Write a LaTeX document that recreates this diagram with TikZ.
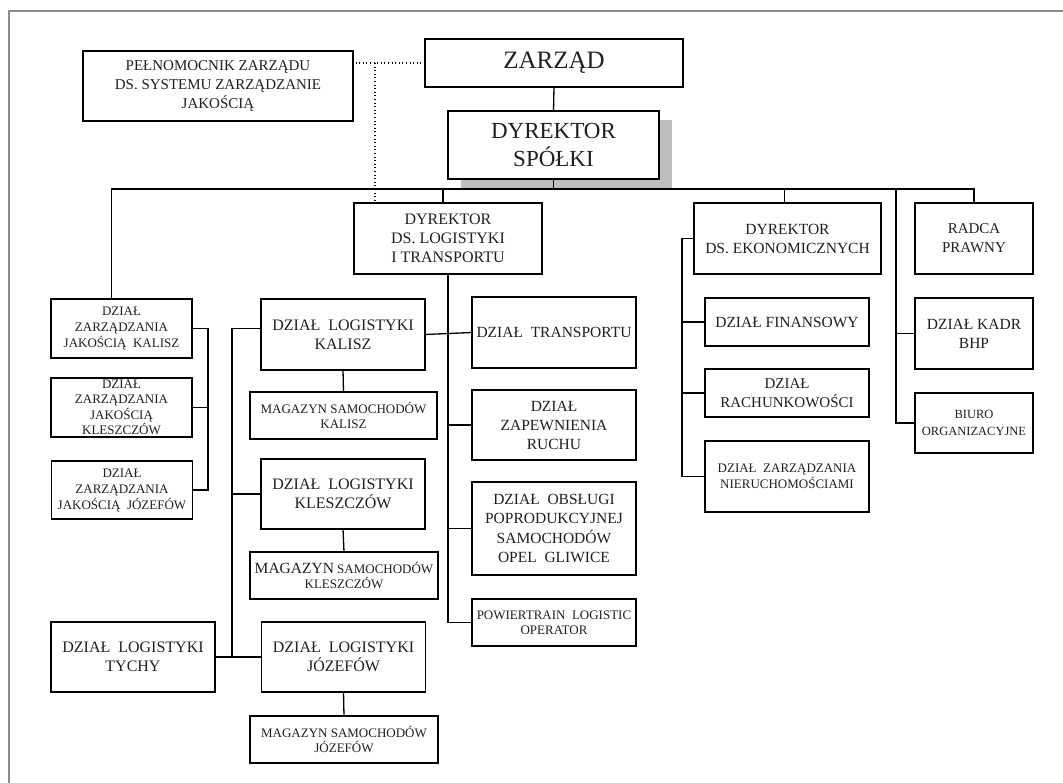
\documentclass[tikz,border=0pt]{standalone}
\usepackage{fontspec}
\setmainfont{Liberation Serif}
\usepackage{xcolor}
\usepackage{tikz}
\usetikzlibrary{shadows}

\definecolor{inkgray}{HTML}{231F20}
\definecolor{shadowgray}{HTML}{BCBEC0}
\definecolor{framegray}{HTML}{8C8C8C}

\begin{document}
\begin{tikzpicture}[x=1pt, y=-1pt]
				\tikzstyle{every node}=[text=inkgray, align=center, inner sep=1pt, outer sep=0pt];
				\tikzstyle{box}=[draw=black, line width=1.4pt, fill=white];
				\tikzstyle{link}=[line width=1.3pt, draw=black];
				\tikzstyle{dots}=[line width=1.3pt, draw=black, dash pattern=on 1pt off 2.6pt];
				\useasboundingbox (0, 0) rectangle (1063, 783);

				%Frame
				\draw[framegray, line width=1.4pt] (9, 783) -- (9, 11) -- (1063, 11);

				%Level 1
				\node[box, minimum width=258, minimum height=48, font=\fontsize{25}{28}\selectfont] (zarzad) at (554, 63) {ZARZĄD};
				\node[box, minimum width=270, minimum height=70, font=\fontsize{15}{19}\selectfont] (pelnomocnik) at (218, 86) {PEŁNOMOCNIK ZARZĄDU\\DS. SYSTEMU ZARZĄDZANIE\\JAKOŚCIĄ};
				\node[box, minimum width=211, minimum height=68, font=\fontsize{23}{28}\selectfont,
					drop shadow={shadow xshift=12.5pt, shadow yshift=-9.5pt, fill=shadowgray, opacity=1}] (dyrSpolki) at (553.5, 145) {DYREKTOR\\SPÓŁKI};

				%Level 2
				\node[box, minimum width=188, minimum height=71, font=\fontsize{16}{19}\selectfont] (dyrLog) at (448, 238.5) {DYREKTOR\\DS. LOGISTYKI\\I TRANSPORTU};
				\node[box, minimum width=187, minimum height=71, font=\fontsize{15.5}{19}\selectfont] (dyrEkon) at (787.5, 238.5) {DYREKTOR\\DS. EKONOMICZNYCH};
				\node[box, minimum width=118, minimum height=71, font=\fontsize{15}{19}\selectfont] (radca) at (974, 238.5) {RADCA\\PRAWNY};

				%Quality
				\node[box, minimum width=141, minimum height=59, font=\fontsize{13}{16}\selectfont] (jakKalisz) at (121.5, 328.5) {DZIAŁ\\ZARZĄDZANIA\\JAKOŚCIĄ\ \ KALISZ};
				\node[box, minimum width=141, minimum height=59, font=\fontsize{13}{15.5}\selectfont] (jakKlesz) at (121.5, 407.5) {DZIAŁ\\ZARZĄDZANIA\\JAKOŚCIĄ\\KLESZCZÓW};
				\node[box, minimum width=141, minimum height=58, font=\fontsize{13}{16}\selectfont] (jakJoz) at (122, 490) {DZIAŁ\\ZARZĄDZANIA\\JAKOŚCIĄ\ \ JÓZEFÓW};

				%Logistics
				\node[box, minimum width=164, minimum height=71, font=\fontsize{16}{19}\selectfont] (logKalisz) at (343, 334.5) {DZIAŁ\ \ LOGISTYKI\\KALISZ};
				\node[box, minimum width=187, minimum height=47, font=\fontsize{13}{15}\selectfont] (magKalisz) at (343.5, 415.5) {MAGAZYN SAMOCHODÓW\\KALISZ};
				\node[box, minimum width=164, minimum height=70, font=\fontsize{16}{19}\selectfont] (logKlesz) at (343, 494) {DZIAŁ\ \ LOGISTYKI\\KLESZCZÓW};
				\node[box, minimum width=188, minimum height=47, font=\fontsize{13}{15}\selectfont] (magKlesz) at (344, 575.5) {{\fontsize{15.5}{15}\selectfont MAGAZYN} SAMOCHODÓW\\KLESZCZÓW};
				\node[box, minimum width=164, minimum height=70, font=\fontsize{16}{19}\selectfont] (logJoz) at (343.5, 657) {DZIAŁ\ \ LOGISTYKI\\JÓZEFÓW};
				\node[box, minimum width=188, minimum height=47, font=\fontsize{13}{15}\selectfont] (magJoz) at (344, 739.5) {MAGAZYN SAMOCHODÓW\\JÓZEFÓW};
				\node[box, minimum width=164, minimum height=70, font=\fontsize{16}{19}\selectfont] (tychy) at (133, 657) {DZIAŁ\ \ LOGISTYKI\\TYCHY};

				%Transport
				\node[box, minimum width=164, minimum height=71, font=\fontsize{15.5}{19}\selectfont] (transp) at (554, 332.5) {DZIAŁ\ \ TRANSPORTU};
				\node[box, minimum width=164, minimum height=70, font=\fontsize{15.5}{19}\selectfont] (zapew) at (554, 425) {DZIAŁ\\ZAPEWNIENIA\\RUCHU};
				\node[box, minimum width=164, minimum height=93, font=\fontsize{15.5}{19.5}\selectfont] (obslugi) at (554, 528.5) {DZIAŁ\ \ OBSŁUGI\\POPRODUKCYJNEJ\\SAMOCHODÓW\\OPEL\ \ GLIWICE};
				\node[box, minimum width=164, minimum height=47, font=\fontsize{13}{15}\selectfont] (powier) at (554, 622.5) {POWIERTRAIN\ \ LOGISTIC\\OPERATOR};

				%Economy
				\node[box, minimum width=164, minimum height=48, font=\fontsize{15.5}{19}\selectfont] (fin) at (787, 322) {DZIAŁ FINANSOWY};
				\node[box, minimum width=164, minimum height=48, font=\fontsize{15}{19}\selectfont] (rach) at (787, 393) {DZIAŁ\\RACHUNKOWOŚCI};
				\node[box, minimum width=164, minimum height=71, font=\fontsize{13}{16}\selectfont] (nier) at (787, 476.5) {DZIAŁ\ \ ZARZĄDZANIA\\NIERUCHOMOŚCIAMI};

				%Staff
				\node[box, minimum width=118, minimum height=71, font=\fontsize{15.5}{19}\selectfont] (kadr) at (974, 333.5) {DZIAŁ KADR\\BHP};
				\node[box, minimum width=118, minimum height=60, font=\fontsize{12.5}{16.5}\selectfont] (biuro) at (974, 423) {BIURO\\ORGANIZACYJNE};

				%Lines
				\coordinate (bus) at (0, 189);
				\coordinate (dotKnee) at (375, 63);
				\coordinate (jakTrunk) at (208, 0);
				\coordinate (lgTrunk) at (232, 0);
				\coordinate (ekTrunk) at (682, 0);
				\coordinate (rtTrunk) at (896, 0);

				\draw[dots] (zarzad.west) -- (zarzad.west -| pelnomocnik.east);
				\draw[dots] (dotKnee) -- (dotKnee |- dyrLog.north);
				\draw[link] (zarzad.south) -- (dyrSpolki.north);
				\draw[link] (dyrSpolki.south) -- (dyrSpolki.south |- bus);
				\draw[link] ([xshift=-10pt]jakKalisz.north) |- (bus -| radca.north) -- (radca.north);
				\draw[link] (bus -| dyrLog.north) ++(-5, 0) -- ([xshift=-5pt]dyrLog.north);
				\draw[link] (bus -| dyrEkon.north) ++(-3, 0) -- ([xshift=-3pt]dyrEkon.north);
				\draw[link] (bus -| rtTrunk) |- (biuro.west);
				\draw[link] (kadr.west) -- (kadr.west -| rtTrunk);

				\draw[link] (jakKalisz.east) -| (jakTrunk |- jakJoz.east) -- (jakJoz.east);
				\draw[link] (jakKlesz.east) -- (jakKlesz.east -| jakTrunk);

				\draw[link] ([yshift=6pt]logKalisz.west) -| (lgTrunk |- tychy.east);
				\draw[link] (tychy.east) -- (logJoz.west);
				\draw[link] (logKlesz.west) -- (logKlesz.west -| lgTrunk);
				\draw[link] (logKalisz.south) -- (magKalisz.north);
				\draw[link] (logKlesz.south) -- (magKlesz.north);
				\draw[link] (logJoz.south) -- (magJoz.north);

				\draw[link] (dyrLog.south) |- (powier.west);
				\draw[link] (logKalisz.east) -- (transp.west);
				\draw[link] (zapew.west) -- (zapew.west -| dyrLog.south);
				\draw[link] (obslugi.west) -- (obslugi.west -| dyrLog.south);

				\draw[link] (dyrEkon.west) -| (ekTrunk |- nier.west) -- (nier.west);
				\draw[link] (fin.west) -- (fin.west -| ekTrunk);
				\draw[link] (rach.west) -- (rach.west -| ekTrunk);

			\end{tikzpicture}
\end{document}
